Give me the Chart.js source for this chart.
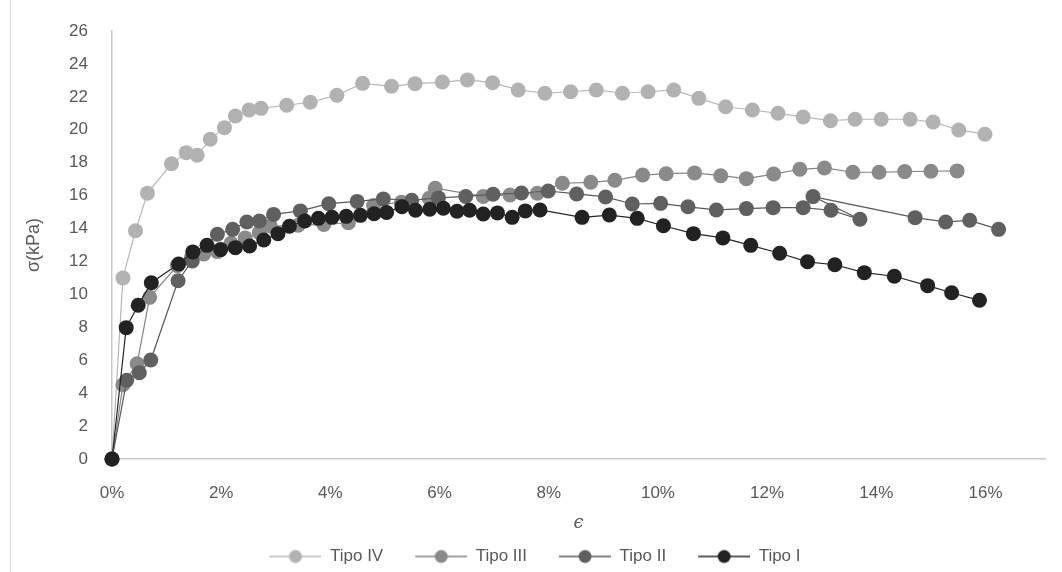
<!DOCTYPE html>
<html>
<head>
<meta charset="utf-8">
<script src="https://cdn.jsdelivr.net/npm/chart.js@4.4.1/dist/chart.umd.min.js"></script>
<style>
  html, body { margin: 0; padding: 0; background: #fff; }
  #wrap { position: relative; width: 1062px; height: 572px; overflow: hidden; }
  #frame { position: absolute; left: 10px; top: 0; width: 1px; height: 572px; background: #d9d9d9; }
  canvas { position: absolute; left: 0; top: 0; }
</style>
</head>
<body>
<div id="wrap">
  <canvas id="myChart" width="1062" height="572"></canvas>
  <div id="frame"></div>
</div>
<script>
// deformación (%) y esfuerzo (kPa)
var tipoIV_eps = [0, 0.2, 0.43, 0.65, 1.09, 1.36, 1.56, 1.8, 2.06, 2.26, 2.51, 2.73, 3.2, 3.63, 4.12, 4.59, 5.12, 5.55, 6.05, 6.51, 6.97, 7.44, 7.93, 8.4, 8.87, 9.35, 9.82, 10.29, 10.75, 11.24, 11.73, 12.2, 12.66, 13.16, 13.61, 14.09, 14.62, 15.04, 15.51, 15.99];
var tipoIV_sigma = [0, 11.0, 13.87, 16.15, 17.94, 18.61, 18.45, 19.42, 20.13, 20.84, 21.2, 21.3, 21.49, 21.67, 22.1, 22.82, 22.64, 22.8, 22.9, 23.03, 22.86, 22.42, 22.22, 22.31, 22.42, 22.22, 22.31, 22.42, 21.91, 21.4, 21.2, 21.0, 20.78, 20.55, 20.64, 20.64, 20.64, 20.47, 19.99, 19.73];

var tipoIII_eps = [0, 0.2, 0.46, 0.69, 1.2, 1.45, 1.68, 1.93, 2.18, 2.44, 2.7, 2.9, 3.41, 3.88, 4.33, 4.79, 5.3, 5.81, 5.92, 6.8, 7.29, 7.79, 8.25, 8.77, 9.21, 9.72, 10.15, 10.67, 11.15, 11.62, 12.12, 12.6, 13.05, 13.57, 14.05, 14.52, 15.0, 15.48];
var tipoIII_sigma = [0, 4.51, 5.79, 9.82, 11.75, 12.2, 12.45, 12.6, 13.1, 13.42, 13.75, 14.15, 14.2, 14.25, 14.35, 15.4, 15.6, 15.84, 16.45, 15.95, 16.04, 16.14, 16.75, 16.81, 16.93, 17.25, 17.33, 17.38, 17.21, 17.03, 17.31, 17.6, 17.68, 17.42, 17.42, 17.46, 17.48, 17.5];

var tipoII_eps = [0, 0.27, 0.5, 0.71, 1.21, 1.47, 1.93, 2.21, 2.47, 2.7, 2.96, 3.45, 3.97, 4.49, 4.97, 5.49, 5.98, 6.48, 6.98, 7.5, 7.99, 8.51, 9.04, 9.53, 10.05, 10.55, 11.07, 11.62, 12.11, 12.66, 13.17, 13.7, 12.84, 14.71, 15.27, 15.71, 16.24];
var tipoII_sigma = [0, 4.78, 5.24, 6.01, 10.83, 12.03, 13.65, 13.95, 14.4, 14.46, 14.86, 15.07, 15.51, 15.65, 15.8, 15.72, 15.86, 15.95, 16.08, 16.16, 16.28, 16.1, 15.92, 15.49, 15.53, 15.32, 15.13, 15.21, 15.27, 15.27, 15.11, 14.56, 15.94, 14.66, 14.4, 14.5, 13.95];

var tipoI_eps = [0, 0.26, 0.48, 0.72, 1.22, 1.48, 1.74, 1.99, 2.26, 2.52, 2.78, 3.04, 3.25, 3.53, 3.78, 4.03, 4.29, 4.55, 4.8, 5.03, 5.31, 5.56, 5.82, 6.07, 6.32, 6.55, 6.8, 7.06, 7.33, 7.57, 7.84, 8.61, 9.11, 9.62, 10.1, 10.65, 11.19, 11.7, 12.23, 12.74, 13.24, 13.78, 14.33, 14.94, 15.38, 15.89];
var tipoI_sigma = [0, 7.98, 9.34, 10.71, 11.85, 12.58, 12.98, 12.72, 12.84, 12.94, 13.3, 13.69, 14.14, 14.46, 14.62, 14.68, 14.74, 14.8, 14.9, 14.98, 15.33, 15.11, 15.17, 15.23, 15.05, 15.11, 14.88, 14.95, 14.68, 15.07, 15.13, 14.68, 14.82, 14.62, 14.17, 13.69, 13.43, 12.98, 12.5, 11.98, 11.8, 11.32, 11.1, 10.53, 10.1, 9.64];

var yTicksMax = 26;
var xTicksMax = 17.09;

var labelFont = "'Liberation Sans', sans-serif";
var textColor = '#595959';

function toPoints(xs, ys) {
  return xs.map(function (x, i) {
    return { x: x, y: ys[i] };
  });
}

// line + dot legend marker, with blank room on the left as spacing between items
function legendIcon(lineColor, dotColor) {
  var c = document.createElement('canvas');
  c.width = 77;
  c.height = 16;
  var g = c.getContext('2d');
  g.strokeStyle = lineColor;
  g.lineWidth = 1.5;
  g.beginPath();
  g.moveTo(25, 8);
  g.lineTo(77, 8);
  g.stroke();
  g.fillStyle = dotColor;
  g.beginPath();
  g.arc(51, 8, 6.5, 0, Math.PI * 2);
  g.fill();
  return c;
}

function makeSet(label, xs, ys, lineColor, dotColor) {
  return {
    label: label,
    data: toPoints(xs, ys),
    showLine: true,
    borderColor: lineColor,
    borderWidth: 1.2,
    backgroundColor: dotColor,
    pointBackgroundColor: dotColor,
    pointBorderWidth: 0,
    pointRadius: 7.5,
    clip: false,
    icon: legendIcon(lineColor, dotColor),
  };
}

// Tipo I first so it is painted on top, legend order is reversed below
var datasets = [
  makeSet('Tipo I', tipoI_eps, tipoI_sigma, '#262626', '#222222'),
  makeSet('Tipo II', tipoII_eps, tipoII_sigma, '#595959', '#606060'),
  makeSet('Tipo III', tipoIII_eps, tipoIII_sigma, '#858585', '#8a8a8a'),
  makeSet('Tipo IV', tipoIV_eps, tipoIV_sigma, '#b8b8b8', '#b2b2b2'),
];

var config = {
  type: 'scatter',
  data: { datasets: datasets },
  options: {
    responsive: false,
    animation: false,
    events: [],
    layout: { padding: { top: 31, right: 17, bottom: -3, left: 0 } },
    plugins: {
      tooltip: { enabled: false },
      legend: {
        position: 'bottom',
        labels: {
          usePointStyle: true,
          pointStyleWidth: 77,
          padding: 7,
          color: textColor,
          font: { family: labelFont, size: 17 },
          sort: function (a, b) {
            return b.datasetIndex - a.datasetIndex;
          },
          generateLabels: function (chart) {
            var items = Chart.defaults.plugins.legend.labels.generateLabels(chart);
            items.forEach(function (it) {
              it.pointStyle = chart.data.datasets[it.datasetIndex].icon;
            });
            return items;
          },
        },
      },
    },
    scales: {
      x: {
        type: 'linear',
        min: 0,
        max: xTicksMax,
        grid: { display: false, drawTicks: false },
        border: { display: true, color: '#c8c8c8', width: 1.5 },
        ticks: {
          stepSize: 2,
          includeBounds: false,
          padding: 24,
          color: textColor,
          font: { family: labelFont, size: 17 },
          callback: function (v) {
            return v + '%';
          },
        },
        title: {
          display: true,
          text: 'ϵ',
          color: textColor,
          padding: { top: 0, bottom: 7 },
          font: { family: "'DejaVu Serif', serif", size: 18, style: 'italic' },
        },
        afterFit: function (scale) {
          scale.height = 82;
        },
      },
      y: {
        min: 0,
        max: yTicksMax,
        grid: { display: false, drawTicks: false },
        border: { display: true, color: '#c8c8c8', width: 1.5 },
        ticks: {
          stepSize: 2,
          padding: 24,
          color: textColor,
          font: { family: labelFont, size: 17 },
        },
        title: {
          display: true,
          text: 'σ(kPa)',
          color: textColor,
          padding: { top: 23, bottom: 0 },
          font: { family: labelFont, size: 18 },
        },
        afterFit: function (scale) {
          scale.width = 112;
          scale.paddingTop = 0;
        },
      },
    },
  },
};

var ctx = document.getElementById('myChart');
var lineGraph = new Chart(ctx, config);
</script>
</body>
</html>
